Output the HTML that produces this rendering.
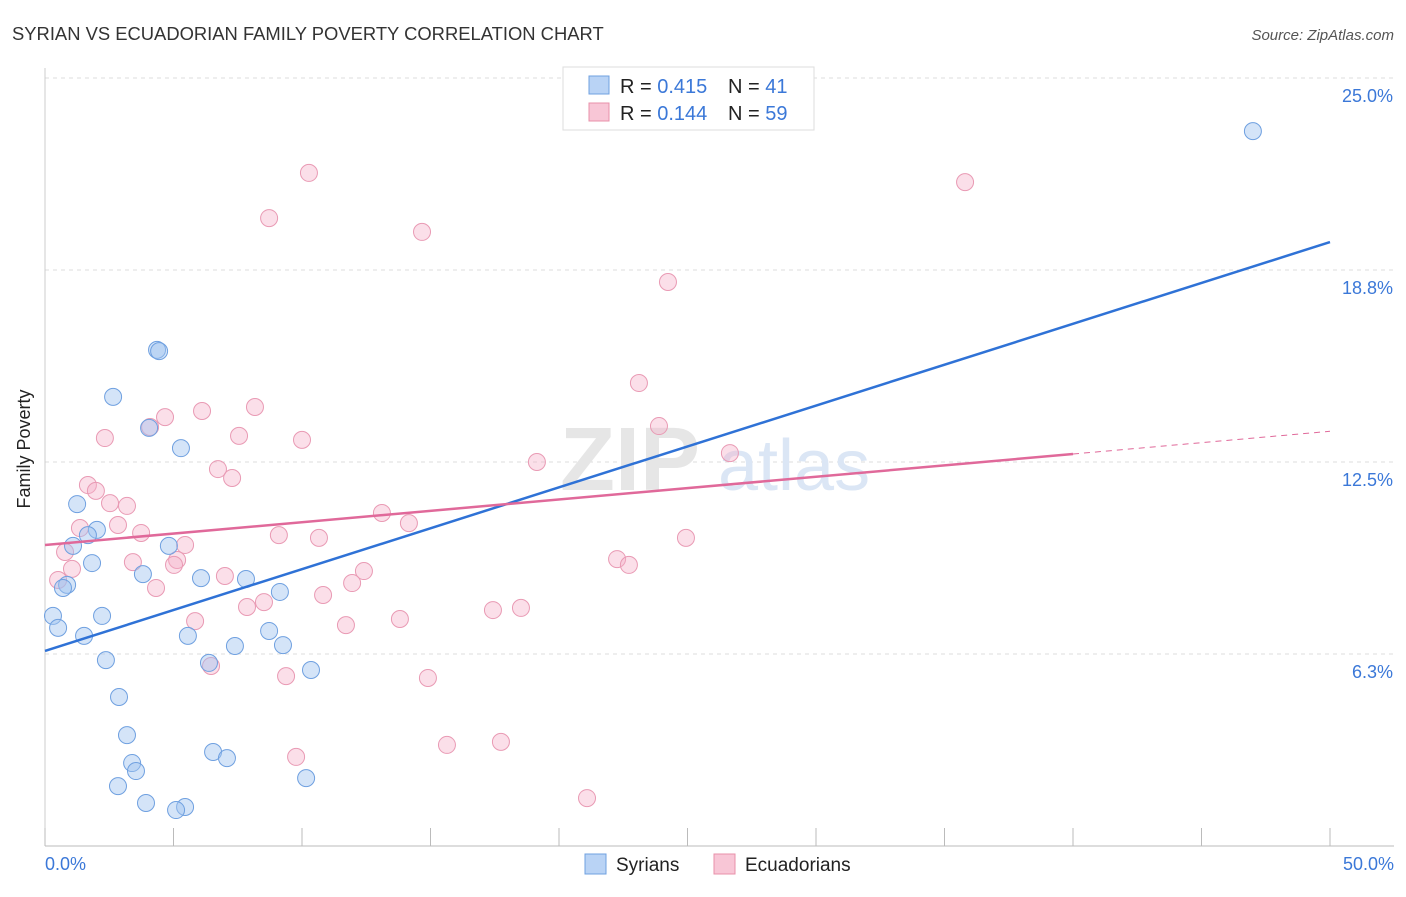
<!DOCTYPE html>
<html><head><meta charset="utf-8"><style>
body{margin:0;background:#fff;font-family:"Liberation Sans",sans-serif;}
svg text{font-family:"Liberation Sans",sans-serif;}
</style></head><body>
<svg width="1406" height="892" xmlns="http://www.w3.org/2000/svg">
<text x="12" y="40" font-size="18.4" fill="#333">SYRIAN VS ECUADORIAN FAMILY POVERTY CORRELATION CHART</text>
<text x="1394" y="40" font-size="15" fill="#555" font-style="italic" text-anchor="end">Source: ZipAtlas.com</text>
<g id="grid"></g>
<g id="axes"></g>
<text x="560" y="490" font-size="90" fill="#e6e6e6" font-family="Liberation Serif" font-weight="bold">ZIP</text>
<text x="718" y="490" font-size="72" fill="#dbe6f5">atlas</text>
<g id="marks"></g>
<text x="36" y="455" font-size="18" fill="#222" transform="rotate(-90 30 455)" text-anchor="middle">Family Poverty</text>
<g>
<rect x="563" y="67" width="251" height="63" fill="#fff" stroke="#ddd"/>
<rect x="589" y="76" width="20" height="18" fill="#b9d3f5" stroke="#6fa0e0"/>
<rect x="589" y="103" width="20" height="18" fill="#f8c6d6" stroke="#e890aa"/>
<text x="620" y="93" font-size="20" fill="#222">R = <tspan fill="#3b78d8">0.415</tspan></text>
<text x="728" y="93" font-size="20" fill="#222">N =  <tspan fill="#3b78d8">41</tspan></text>
<text x="620" y="120" font-size="20" fill="#222">R = <tspan fill="#3b78d8">0.144</tspan></text>
<text x="728" y="120" font-size="20" fill="#222">N = <tspan fill="#3b78d8">59</tspan></text>
</g>
<g>
<rect x="585" y="854" width="21" height="20" fill="#b9d3f5" stroke="#6fa0e0"/>
<text x="616" y="871" font-size="19" fill="#222">Syrians</text>
<rect x="714" y="854" width="21" height="20" fill="#f8c6d6" stroke="#e890aa"/>
<text x="745" y="871" font-size="19" fill="#222">Ecuadorians</text>
</g>
</svg>
<script>
const yTicks=[6.25,12.5,18.75,25];
const yTickLabels=["6.3%","12.5%","18.8%","25.0%"];
const xTickLabels=["0.0%","50.0%"];
const syrX=[47.0,4.36,4.44,2.65,4.05,5.29,1.25,2.02,1.67,1.09,4.82,1.83,3.81,6.07,7.82,0.86,0.70,9.14,0.31,2.22,0.51,1.52,5.56,8.72,9.26,7.39,2.37,6.38,10.35,2.88,3.19,6.54,7.08,3.39,3.54,10.16,2.84,3.93,5.45,5.10];
const syrY=[23.27,16.15,16.11,14.62,13.61,12.95,11.13,10.29,10.12,9.77,9.77,9.21,8.85,8.72,8.69,8.50,8.40,8.27,7.49,7.49,7.10,6.84,6.84,7.00,6.54,6.51,6.05,5.96,5.73,4.85,3.61,3.06,2.86,2.70,2.44,2.21,1.95,1.40,1.27,1.17];
const ecuX=[10.27,35.80,8.72,14.67,24.24,23.11,4.67,6.11,8.17,4.09,2.33,7.55,10.00,23.89,26.65,19.14,6.73,7.28,1.67,1.98,2.53,3.19,13.11,1.36,2.84,14.16,3.74,9.10,10.66,24.94,5.45,0.78,22.26,22.72,3.42,5.14,5.02,1.05,12.41,7.00,11.95,0.51,4.32,10.82,8.52,7.86,17.43,18.52,5.84,11.71,13.81,6.46,9.38,14.90,9.77,15.64,17.74,21.09];
const ecuY=[21.91,21.61,20.44,19.99,18.36,15.07,13.96,14.16,14.29,13.64,13.28,13.35,13.22,13.67,12.79,12.50,12.27,11.98,11.75,11.56,11.16,11.07,10.84,10.35,10.45,10.51,10.19,10.12,10.03,10.03,9.80,9.57,9.34,9.15,9.24,9.31,9.15,9.02,8.95,8.79,8.56,8.66,8.40,8.17,7.94,7.78,7.68,7.75,7.32,7.19,7.39,5.86,5.53,5.47,2.90,3.29,3.39,1.56];
const syrTrend=[6.35,19.66];
const ecuTrend=[9.8,13.5];
const X=v=>45+v/50*1285, Y=v=>846-v*30.72;
const NS="http://www.w3.org/2000/svg";
function mk(t,a,p){const e=document.createElementNS(NS,t);for(const k in a)e.setAttribute(k,a[k]);p.appendChild(e);return e;}
const grid=document.getElementById('grid'),axes=document.getElementById('axes'),marks=document.getElementById('marks');
yTicks.forEach((t,i)=>{
 const l=mk('line',{x1:45,x2:1394,y1:Y(t),y2:Y(t),stroke:'#ddd','stroke-dasharray':'4,4'},grid);
 
 
 const tx=mk('text',{x:1393,y:Y(t)+24,'font-size':18,fill:'#3b78d8','text-anchor':'end'},axes);
 tx.textContent=yTickLabels[i];
 
 
});
const ax=mk('line',{x1:45,x2:1394,y1:846,y2:846,stroke:'#bbb'},axes);


const ay=mk('line',{x1:45,x2:45,y1:68,y2:846,stroke:'#ccc'},axes);


for(let i=0;i<=10;i++){
 const t=mk('line',{x1:X(i*5),x2:X(i*5),y1:828,y2:846,stroke:'#bbb'},axes);
 
 
}
[[0,'start',45],[1,'end',1394]].forEach(([i,a,x])=>{
 const t=mk('text',{x:x,y:870,'font-size':18,fill:'#3b78d8','text-anchor':a},axes);
 t.textContent=xTickLabels[i];
 
 
});
ecuX.forEach((x,i)=>{
 const big=(x<0.5&&ecuY[i]>9);
 const c=mk('circle',{cx:X(x),cy:Y(ecuY[i]),r:big?14:8.5,fill:'rgba(245,175,200,0.4)',stroke:'#e99ab4','stroke-width':1},marks);
 
 
});
syrX.forEach((x,i)=>{
 const c=mk('circle',{cx:X(x),cy:Y(syrY[i]),r:8.5,fill:'rgba(160,195,240,0.45)',stroke:'#6fa0e0','stroke-width':1},marks);
 
 
});
const bl=mk('line',{x1:X(0),y1:Y(syrTrend[0]),x2:X(50),y2:Y(syrTrend[1]),stroke:'#2f72d6','stroke-width':2.5},marks);


const ye=ecuTrend[0]+(ecuTrend[1]-ecuTrend[0])*0.8;
const pl=mk('line',{x1:X(0),y1:Y(ecuTrend[0]),x2:X(40),y2:Y(ye),stroke:'#e0699a','stroke-width':2.5},marks);


const pd=mk('line',{x1:X(40),y1:Y(ye),x2:X(50),y2:Y(ecuTrend[1]),stroke:'#e0699a','stroke-width':1,'stroke-dasharray':'6,5'},marks);


</script>
</body></html>
